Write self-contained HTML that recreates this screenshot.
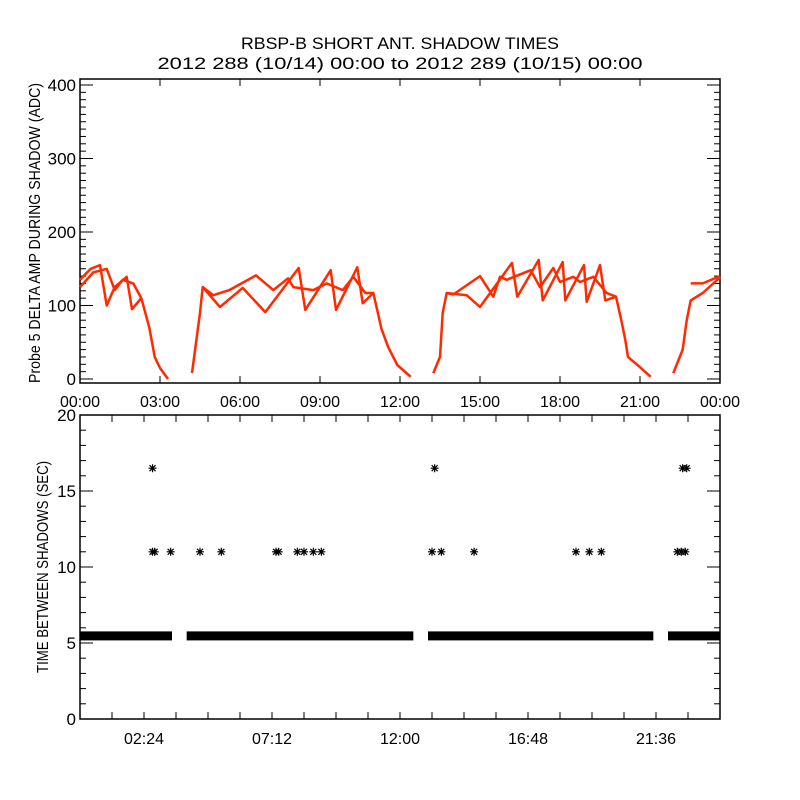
<!DOCTYPE html>
<html><head><meta charset="utf-8"><style>
html,body{margin:0;padding:0;background:#fff;}
svg{display:block;font-family:"Liberation Sans",sans-serif;}
</style></head><body>
<svg id="chart" width="800" height="800" viewBox="0 0 800 800">
<rect x="0" y="0" width="800" height="800" fill="#fff"/>
<text x="400" y="49" font-size="17" text-anchor="middle" textLength="318" lengthAdjust="spacingAndGlyphs">RBSP-B SHORT ANT. SHADOW TIMES</text>
<text x="400" y="69" font-size="17" text-anchor="middle" textLength="485" lengthAdjust="spacingAndGlyphs">2012 288 (10/14) 00:00 to 2012 289 (10/15) 00:00</text>
<g id="topPanel"></g>
<g id="botPanel"></g>
</svg>
<script>
// ---- top panel data (hours, ADC) ----
const segATimes = [
 [0,0.4,0.75,1.0,1.3,1.75,1.95,2.3,2.6,2.8,3.0,3.3],
 [4.2,4.5,4.6,5.25,6.1,6.95,8.2,8.45,9.4,9.6,10.4,10.6,11.0,11.2,11.3,11.55,11.9,12.4],
 [13.25,13.5,13.6,13.75,14.5,15.0,16.2,16.4,17.2,17.35,18.1,18.2,18.9,19.0,19.5,19.7,20.1,20.3,20.45,20.55,21.0,21.4],
 [22.25,22.6,22.75,22.9,23.35,23.9,24]
];
const segAValues = [
 [135,150,155,100,125,139,95,110,70,30,15,0],
 [8,90,125,98,124,91,151,94,148,94,152,103,117,85,69,44,19,3],
 [8,30,90,117,114,98,158,112,162,107,159,107,155,105,155,107,112,80,53,30,16,3],
 [8,40,80,107,117,135,138]
];
const segBTimes = [
 [0,0.5,1.0,1.3,1.6,2.0,2.3],
 [4.6,5.0,5.6,6.6,7.25,7.8,8.0,8.75,9.25,9.85,10.25,10.7,11.0],
 [13.75,14.0,15.0,15.5,15.75,16.0,16.9,17.25,17.75,18.0,18.5,18.75,19.25,19.75,20.1],
 [22.9,23.35,24]
];
const segBValues = [
 [125,145,150,121,135,130,110],
 [125,114,121,141,121,137,125,121,130,121,139,117,117],
 [117,115,140,112,139,135,148,125,151,132,139,132,139,117,112],
 [130,130,140]
];
const topYTicks = [0,100,200,300,400];
const topXLabels = ["00:00","03:00","06:00","09:00","12:00","15:00","18:00","21:00","00:00"];
// ---- bottom panel data ----
const bandStart = [0,4.0,13.05,22.05];
const bandEnd = [3.45,12.5,21.5,24];
const bandValue = 5.5;
const starTimes = [2.72,2.8,3.4,4.5,5.3,7.35,7.45,8.15,8.4,8.75,9.05,13.2,13.55,14.78,18.6,19.1,19.55,22.4,22.55,22.7,2.72,13.3,22.6,22.75];
const starValues = [11,11,11,11,11,11,11,11,11,11,11,11,11,11,11,11,11,11,11,11,16.5,16.5,16.5,16.5];
const botYTicks = [0,5,10,15,20];
const botXLabels = ["02:24","07:12","12:00","16:48","21:36"];

const NS="http://www.w3.org/2000/svg";
const L=80,R=720;
const X=h=>L+(R-L)*h/24;
const TT=79,TB=383, tY=v=>379-v*0.735;
const BT=415,BB=719, bY=v=>BB-(BB-BT)*v/20;
function mk(tag,attrs,parent){const e=document.createElementNS(NS,tag);for(const k in attrs)e.setAttribute(k,attrs[k]);parent.appendChild(e);return e;}
const topG=document.getElementById('topPanel'), botG=document.getElementById('botPanel');

let f=mk('rect',{x:L,y:TT,width:R-L,height:TB-TT,fill:'none',stroke:'#000','stroke-width':1.5},topG);


for(let v=0;v<=400;v+=10){
 const y=tY(v); const len=(v%100===0)?13:6;
 let t=mk('line',{x1:L,x2:L+len,y1:y,y2:y,stroke:'#000'},topG);
 
 
 let t2=mk('line',{x1:R,x2:R-len,y1:y,y2:y,stroke:'#000'},topG);
 
 
}
topYTicks.forEach(v=>{
 let t=mk('text',{x:L-4,y:tY(v)+6,'font-size':17,'text-anchor':'end'},topG);t.textContent=v;
 
 
});
topXLabels.forEach((s,i)=>{
 const x=X(i*3);
 let a=mk('line',{x1:x,x2:x,y1:TB,y2:TB-7,stroke:'#000'},topG);
 
 
 let b=mk('line',{x1:x,x2:x,y1:TT,y2:TT+7,stroke:'#000'},topG);
 
 
 let t=mk('text',{x:x,y:TB+24,'font-size':16,'text-anchor':'middle'},topG);t.textContent=s;
 
 
});
let yt=mk('text',{x:0,y:0,'font-size':16,'text-anchor':'middle',textLength:300,lengthAdjust:'spacingAndGlyphs',transform:'translate(40,233) rotate(-90)'},topG);
yt.textContent='Probe 5 DELTA AMP DURING SHADOW (ADC)';


function drawSeries(times,vals,name){
 times.forEach((ts,si)=>{
  const pts=ts.map((h,i)=>X(h).toFixed(1)+','+tY(vals[si][i]).toFixed(1)).join(' ');
  let p=mk('polyline',{points:pts,fill:'none',stroke:'#ff2a00','stroke-width':2.5,'stroke-linejoin':'round'},topG);
  
  
 });
}
drawSeries(segATimes,segAValues,'delta-amp-series-a');
drawSeries(segBTimes,segBValues,'delta-amp-series-b');

f=mk('rect',{x:L,y:BT,width:R-L,height:BB-BT,fill:'none',stroke:'#000','stroke-width':1.5},botG);


for(let v=0;v<=20;v+=1){
 const y=bY(v); const len=(v%5===0)?13:6;
 let t=mk('line',{x1:L,x2:L+len,y1:y,y2:y,stroke:'#000'},botG);
 
 
 let t2=mk('line',{x1:R,x2:R-len,y1:y,y2:y,stroke:'#000'},botG);
 
 
}
botYTicks.forEach(v=>{
 let t=mk('text',{x:L-4,y:bY(v)+6,'font-size':17,'text-anchor':'end'},botG);t.textContent=v;
 
 
});
for(let i=1;i<20;i++){
 const x=X(i*1.2);
 let a=mk('line',{x1:x,x2:x,y1:BB,y2:BB-7,stroke:'#000'},botG);
 
 
 let b=mk('line',{x1:x,x2:x,y1:BT,y2:BT+7,stroke:'#000'},botG);
 
 
}
botXLabels.forEach((s,i)=>{
 let t=mk('text',{x:X((i+0.5)*4.8),y:BB+25,'font-size':16,'text-anchor':'middle'},botG);t.textContent=s;
 
 
});
yt=mk('text',{x:0,y:0,'font-size':16,'text-anchor':'middle',textLength:212,lengthAdjust:'spacingAndGlyphs',transform:'translate(48,567) rotate(-90)'},botG);
yt.textContent='TIME BETWEEN SHADOWS (SEC)';


bandStart.forEach((s,i)=>{
 let r=mk('rect',{x:X(s),y:bY(bandValue)-4,width:X(bandEnd[i])-X(s),height:9,fill:'#000'},botG);
 
 
});
starTimes.forEach((h,i)=>{
 const cx=X(h),cy=bY(starValues[i]);
 let g=mk('path',{d:`M${cx-4},${cy}h8M${cx},${cy-4}v8M${cx-3},${cy-3}l6,6M${cx-3},${cy+3}l6,-6`,stroke:'#000','stroke-width':1.2,fill:'none'},botG);
 
 
});
</script>
</body></html>
